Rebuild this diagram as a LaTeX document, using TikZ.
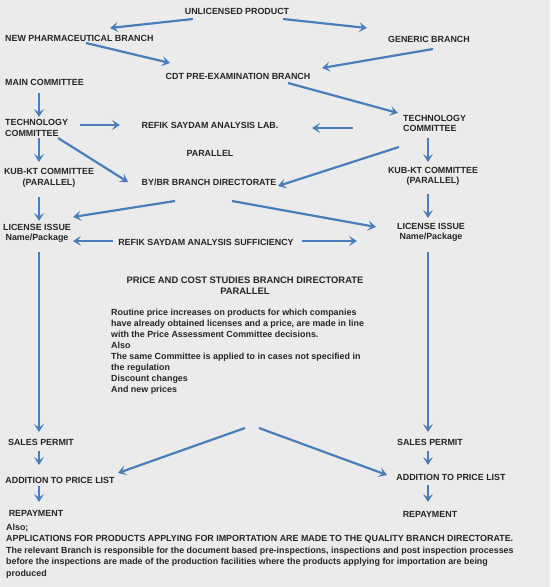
\documentclass[tikz,border=0pt]{standalone}
\usepackage{fontspec}
\setmainfont{Liberation Sans}
\usetikzlibrary{arrows.meta}
\definecolor{pagegray}{HTML}{EBEBEB}
\definecolor{inkgray}{HTML}{262626}
\definecolor{flowblue}{HTML}{4A7EBB}

\begin{document}
\begin{tikzpicture}[x=1pt, y=-1pt,
    lbl/.style={font=\bfseries\fontsize{8.9}{10.5}\selectfont, text=inkgray, inner sep=0pt, align=center},
    lft/.style={lbl, align=left, anchor=west},
    para/.style={lft, font=\bfseries\fontsize{8.9}{11}\selectfont},
    flow/.style={draw=flowblue, line width=2.2pt, -{Stealth[length=8pt, width=10pt, inset=3.5pt]}}]
      \fill[pagegray] (0,0) rectangle (550,587);
      \node[lbl] (unl) at (237,11) {UNLICENSED PRODUCT};
      \node[lft] (newb) at (5,38) {NEW PHARMACEUTICAL BRANCH};
      \node[lbl] (gen) at (429,39) {GENERIC BRANCH};
      \node[lbl] (cdt) at (238,76) {CDT PRE-EXAMINATION BRANCH};
      \node[lft] (mainc) at (5,82) {MAIN COMMITTEE};
      \node[lft] (techl) at (5,128) {TECHNOLOGY\\COMMITTEE};
      \node[lft] (techr) at (403,123.5) {TECHNOLOGY\\COMMITTEE};
      \node[lbl] (lab) at (210,125) {REFIK SAYDAM ANALYSIS LAB.};
      \node[lbl] (par) at (210,153) {PARALLEL};
      \node[lbl] (kubl) at (49,178) {KUB-KT COMMITTEE\\(PARALLEL)};
      \node[lbl] (bybr) at (209,182) {BY/BR BRANCH DIRECTORATE};
      \node[lbl] (kubr) at (433,176.5) {KUB-KT COMMITTEE\\(PARALLEL)};
      \node[lbl] (licl) at (37,233.5) {LICENSE ISSUE\\Name/Package};
      \node[lbl] (licr) at (431,232.5) {LICENSE ISSUE\\Name/Package};
      \node[lbl] (suff) at (206,242) {REFIK SAYDAM ANALYSIS SUFFICIENCY};
      \node[lbl, font=\bfseries\fontsize{9.4}{11}\selectfont] (price) at (245,285.5) {PRICE AND COST STUDIES BRANCH DIRECTORATE\\PARALLEL};
      \node[para] (body) at (111,351.5) {Routine price increases on products for which companies\\
        have already obtained licenses and a price, are made in line\\
        with the Price Assessment Committee decisions.\\
        Also\\
        The same Committee is applied to in cases not specified in\\
        the regulation\\
        Discount changes\\
        And new prices};
      \node[lbl] (salesl) at (41,442) {SALES PERMIT};
      \node[lbl] (addl) at (60,480) {ADDITION TO PRICE LIST};
      \node[lbl] (repl) at (36,513) {REPAYMENT};
      \node[lbl] (salesr) at (430,442) {SALES PERMIT};
      \node[lbl] (addr) at (451,477) {ADDITION TO PRICE LIST};
      \node[lbl] (repr) at (430,514) {REPAYMENT};
      \node[para, font=\bfseries\fontsize{8.9}{11.5}\selectfont] (note) at (6,551) {Also;\\
        APPLICATIONS FOR PRODUCTS APPLYING FOR IMPORTATION ARE MADE TO THE QUALITY BRANCH DIRECTORATE.\\
        The relevant Branch is responsible for the document based pre-inspections, inspections and post inspection processes\\
        before the inspections are made of the production facilities where the products applying for importation are being\\
        produced};

      \draw[flow] ([shift={(-44,8)}]unl.center) -- ([shift={(105,-10)}]newb.west);
      \draw[flow] ([shift={(46,8)}]unl.center) -- ([shift={(-62,-11)}]gen.center);
      \draw[flow] ([shift={(81,5)}]newb.west) -- ([shift={(-68,-13)}]cdt.center);
      \draw[flow] ([shift={(4,10)}]gen.center) -- ([shift={(84,-8)}]cdt.center);
      \draw[flow] ([shift={(50,7)}]cdt.center) -- ([shift={(-5,-10.5)}]techr.west);
      \draw[flow] ([shift={(34,11)}]mainc.west) -- ([shift={(34,-11)}]techl.west);
      \draw[flow] ([shift={(75,-3)}]techl.west) -- ([shift={(-90,0)}]lab.center);
      \draw[flow] ([shift={(-50,4.5)}]techr.west) -- ([shift={(102,3)}]lab.center);
      \draw[flow] ([shift={(34,10)}]techl.west) -- ([shift={(-10,-16)}]kubl.center);
      \draw[flow] ([shift={(53,10)}]techl.west) -- ([shift={(-81,0)}]bybr.center);
      \draw[flow] ([shift={(-4,23.5)}]techr.west) -- ([shift={(69,4)}]bybr.center);
      \draw[flow] ([shift={(25,14.5)}]techr.west) -- ([shift={(-5,-14.5)}]kubr.center);
      \draw[flow] ([shift={(-10,19)}]kubl.center) -- ([shift={(2,-12.5)}]licl.center);
      \draw[flow] ([shift={(-34,19)}]bybr.center) -- ([shift={(36,-16.5)}]licl.center);
      \draw[flow] ([shift={(23,19)}]bybr.center) -- ([shift={(-55,-5.5)}]licr.center);
      \draw[flow] ([shift={(-5,17.5)}]kubr.center) -- ([shift={(-3,-14.5)}]licr.center);
      \draw[flow] ([shift={(-93,-1)}]suff.center) -- ([shift={(36,7.5)}]licl.center);
      \draw[flow] ([shift={(96,-1)}]suff.center) -- ([shift={(-74,8.5)}]licr.center);
      \draw[flow] ([shift={(2,18.5)}]licl.center) -- ([shift={(-2,-10)}]salesl.center);
      \draw[flow] ([shift={(-3,19.5)}]licr.center) -- ([shift={(-2,-10)}]salesr.center);
      \draw[flow] ([shift={(-2,9)}]salesl.center) -- ([shift={(-21,-15)}]addl.center);
      \draw[flow] ([shift={(-21,6)}]addl.center) -- ([shift={(3,-11)}]repl.center);
      \draw[flow] ([shift={(-2,9)}]salesr.center) -- ([shift={(-23,-12)}]addr.center);
      \draw[flow] ([shift={(-23,8)}]addr.center) -- ([shift={(-2,-12)}]repr.center);
      \draw[flow] ([shift={(134,76.5)}]body.west) -- ([shift={(58,-7)}]addl.center);
      \draw[flow] ([shift={(148,76.5)}]body.west) -- ([shift={(-64,-2)}]addr.center);
    \end{tikzpicture}
\end{document}
